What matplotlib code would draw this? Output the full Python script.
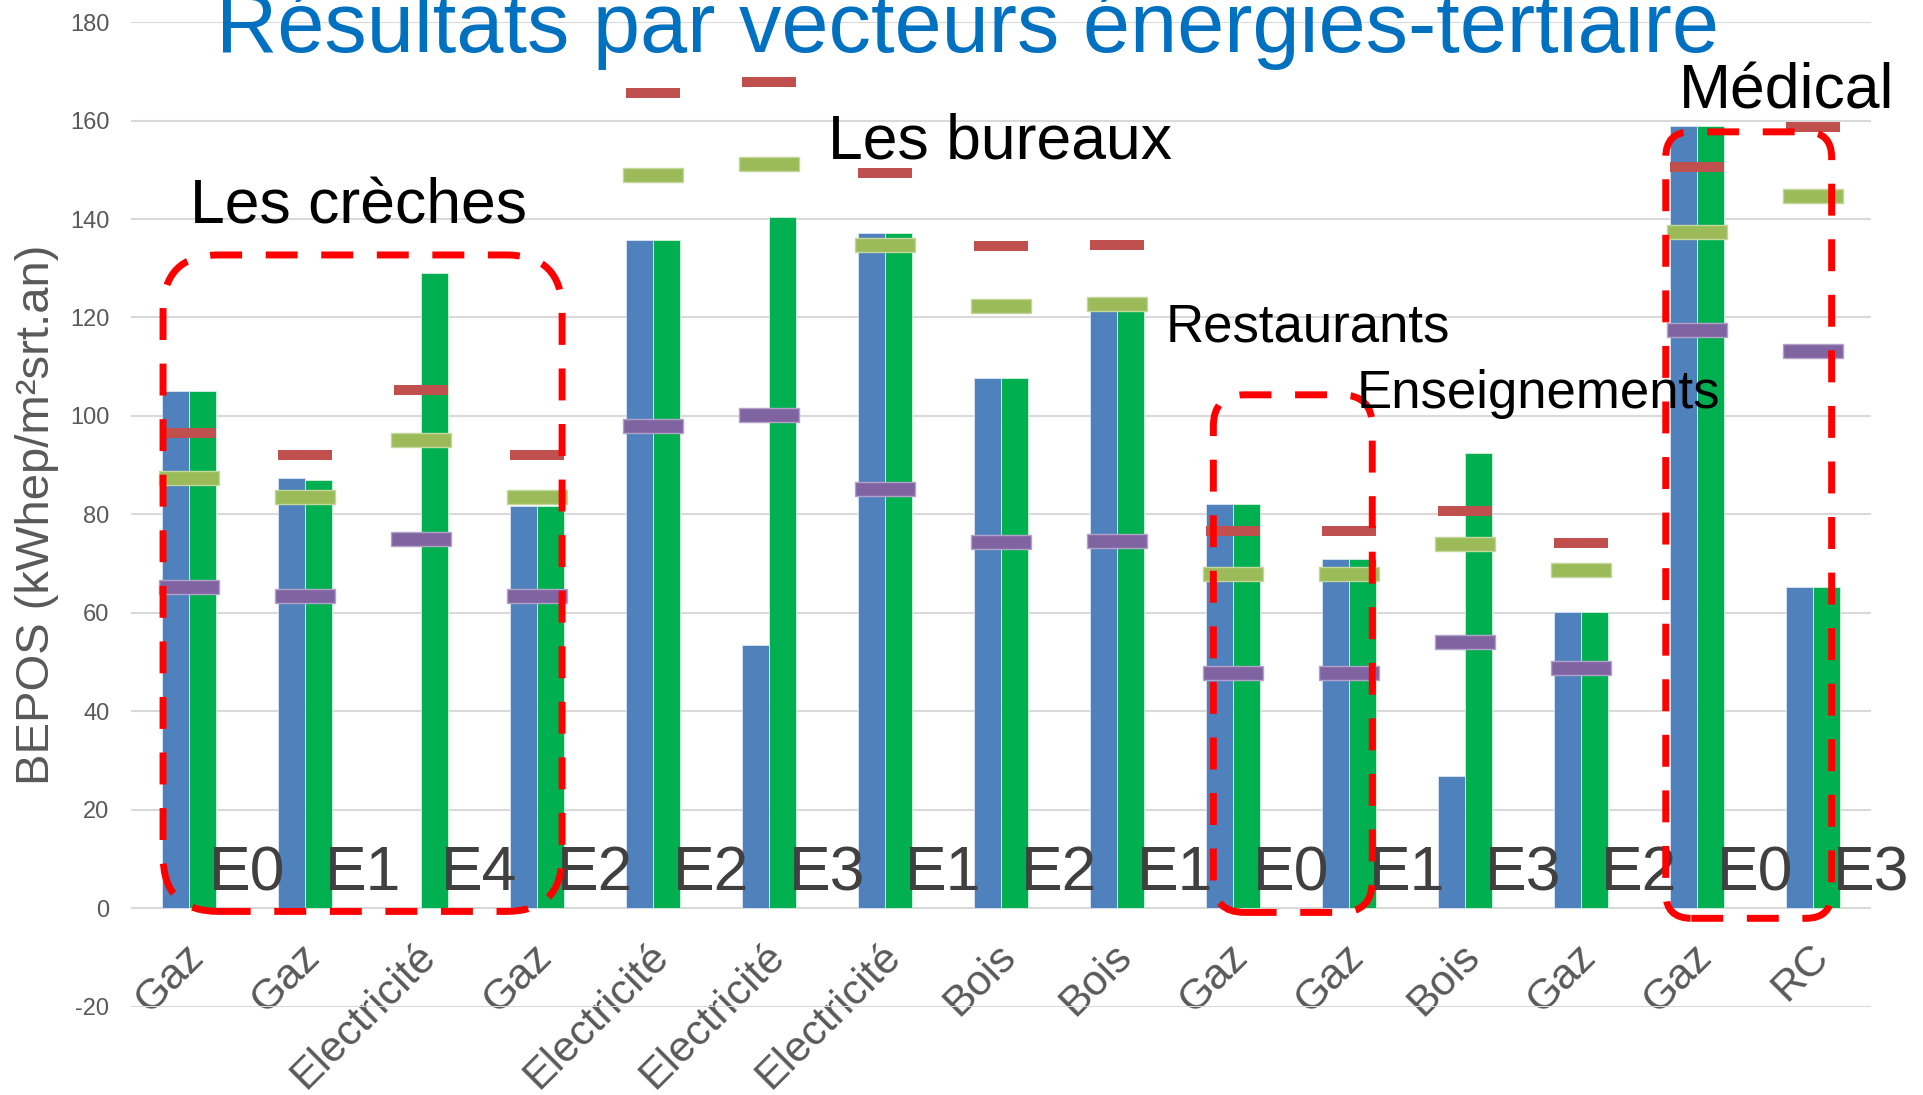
import numpy as np
import matplotlib
matplotlib.use('Agg')
import matplotlib.pyplot as plt
import matplotlib.transforms as mtransforms
from matplotlib.patches import FancyBboxPatch

# --- 字体 ---
plt.rcParams['font.family'] = ['Liberation Sans', 'DejaVu Sans']
plt.rcParams['axes.unicode_minus'] = False

# --- 数据 ---
categories = ['Gaz', 'Gaz', 'Electricité', 'Gaz', 'Electricité', 'Electricité',
              'Electricité', 'Bois', 'Bois', 'Gaz', 'Gaz', 'Bois', 'Gaz', 'Gaz', 'RC']
niveaux = ['E0', 'E1', 'E4', 'E2', 'E2', 'E3', 'E1', 'E2', 'E1', 'E0', 'E1', 'E3', 'E2', 'E0', 'E3']

barres_bleues = [105, 87.5, 0, 81.8, 135.8, 53.5, 137.1, 107.8, 122, 82.1, 70.9, 26.8, 60.2, 158.8, 65.2]
barres_vertes = [105, 87.1, 129.1, 81.8, 135.8, 140.5, 137.1, 107.8, 122, 82.1, 70.9, 92.4, 60.2, 158.8, 65.2]
tirets_rouges = [96.5, 92, 105.2, 92, 165.6, 167.8, 149.3, 134.5, 134.7, 76.6, 76.6, 80.8, 74.3, 150.6, 158.7]
tirets_verts = [87.4, 83.5, 95.2, 83.5, 149.0, 151.2, 134.8, 122.4, 122.7, 68.0, 68.0, 74.0, 68.8, 137.4, 144.7]
tirets_violets = [65.2, 63.5, 75.1, 63.5, 98.0, 100.2, 85.1, 74.5, 74.7, 47.9, 47.9, 54.1, 48.8, 117.5, 113.1]

# groupes encadrés : (x début, x fin, y bas, y haut, arrondi)
groupes = {
    'creches': (-0.224, 3.216, -0.6, 132.7, 0.48),
    'enseignements': (8.83, 10.20, -0.8, 104.3, 0.27),
    'medical': (12.73, 14.16, -2.0, 157.7, 0.22),
}

fig = plt.figure(figsize=(19.24, 10.95), dpi=100)
ax = fig.add_axes([0.0681, 0.0804, 0.9044, 0.8995])

x = np.arange(len(categories))
w = 0.235
ax.bar(x - w / 2, barres_bleues, w, color='#4F81BD', edgecolor='#DCE6F2', linewidth=0.6, zorder=2)
ax.bar(x + w / 2, barres_vertes, w, color='#00B050', edgecolor='#D8F0DF', linewidth=0.6, zorder=2)

# marqueurs "tiret" rectangulaires
rect_rouge = [(-0.5, -0.102), (0.5, -0.102), (0.5, 0.102), (-0.5, 0.102), (-0.5, -0.102)]
rect_large = [(-0.5, -0.115), (0.5, -0.115), (0.5, 0.115), (-0.5, 0.115), (-0.5, -0.115)]
ax.plot(x, tirets_rouges, linestyle='none', marker=rect_rouge, markersize=38.6,
        markerfacecolor='#C0504D', markeredgewidth=0, zorder=3)
ax.plot(x, tirets_verts, linestyle='none', marker=rect_large, markersize=43,
        markerfacecolor='#9BBB59', markeredgecolor='#C3D69B', markeredgewidth=1, zorder=3)
ax.plot(x, tirets_violets, linestyle='none', marker=rect_large, markersize=43,
        markerfacecolor='#8064A2', markeredgecolor='#B3A2C7', markeredgewidth=1, zorder=3)

# étiquettes E0..E4
for i, lab in enumerate(niveaux):
    ax.text(i + 0.5, 3.7, lab, fontsize=45, color='#404040', ha='center', va='baseline',
            zorder=4, clip_on=False)

# cadres rouges arrondis en tirets
for nom, (x0, x1, y0, y1, r) in groupes.items():
    p = FancyBboxPatch((x0, y0), x1 - x0, y1 - y0,
                       boxstyle=f'round,pad=0,rounding_size={r}',
                       mutation_aspect=23.6, fill=False, edgecolor='#FF0000',
                       linewidth=5, linestyle=(0, (4.6, 3.4)), zorder=5, clip_on=False)
    ax.add_patch(p)

# axes
ax.set_xlim(-0.5, len(categories) - 0.5)
ax.set_ylim(-20, 180)
ax.set_yticks(range(-20, 181, 20))
ax.yaxis.grid(True, color='#D9D9D9', linewidth=1.5)
ax.set_axisbelow(True)
for s in ax.spines.values():
    s.set_visible(False)
ax.spines['bottom'].set_position(('data', 0))
ax.tick_params(axis='y', length=0, pad=15.5, labelsize=17, labelcolor='#595959')
ax.tick_params(axis='x', length=0, pad=20, labelsize=31, labelcolor='#595959')
ax.set_xticks(x)
ax.set_xticklabels(categories, rotation=45, ha='right', va='top', rotation_mode='anchor')
decal = mtransforms.ScaledTranslation(-5 / 100, 0, fig.dpi_scale_trans)
for t in ax.get_xticklabels():
    t.set_transform(t.get_transform() + decal)

ax.text(-0.054, 0.5, 'BEPOS (kWhep/m²srt.an)', transform=ax.transAxes, rotation=90,
        fontsize=34, color='#595959', ha='center', va='center')

# titre et annotations
fig.text(0.503, 0.9525, 'Résultats par vecteurs énergies-tertiaire', fontsize=61,
         color='#0070C0', ha='center', va='baseline')
fig.text(0.0988, 0.7963, 'Les crèches', fontsize=45, color='black', va='baseline')
fig.text(0.4304, 0.8548, 'Les bureaux', fontsize=45, color='black', va='baseline')
fig.text(0.8727, 0.9005, 'Médical', fontsize=45, color='black', va='baseline')
fig.text(0.606, 0.6877, 'Restaurants', fontsize=38, color='black', va='baseline')
fig.text(0.7053, 0.6274, 'Enseignements', fontsize=38, color='black', va='baseline')

fig.savefig('out.png', dpi=100)
